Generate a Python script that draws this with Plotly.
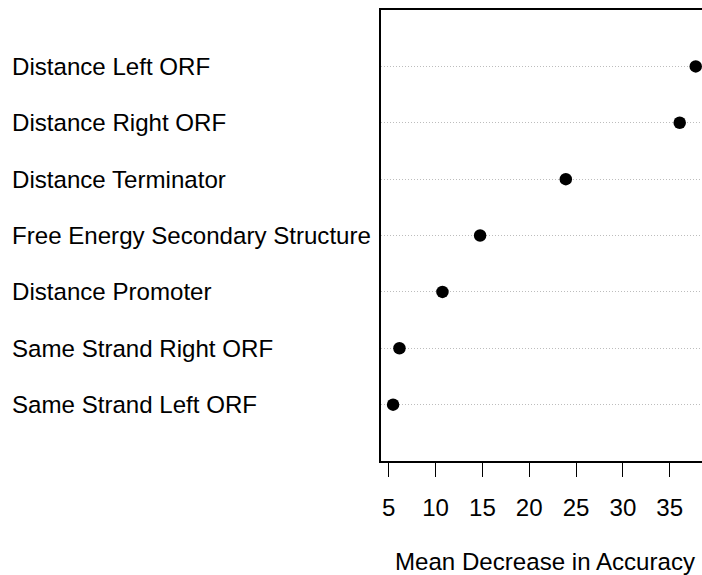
import plotly.graph_objects as go

categories = [
    "Same Strand Left ORF",
    "Same Strand Right ORF",
    "Distance Promoter",
    "Free Energy Secondary Structure",
    "Distance Terminator",
    "Distance Right ORF",
    "Distance Left ORF",
]
values = [5.46, 6.14, 10.73, 14.75, 23.90, 36.06, 37.77]
tick_vals = [5, 10, 15, 20, 25, 30, 35]
x_title = "Mean Decrease in Accuracy"

rows = list(range(1, len(categories) + 1))
FONT = "Liberation Sans, Arial, Helvetica, sans-serif"
FS = 24.1

W, H = 702, 575
L, R, T, B = 381, 0, 10, 114
pxu = 9.367
x0 = 4.17
x1 = x0 + (W - L - R) / pxu

fig = go.Figure()
fig.add_trace(go.Scatter(
    x=values, y=rows, mode="markers",
    marker=dict(color="black", size=12.5, line=dict(width=0)),
    hoverinfo="x+y", showlegend=False,
))

annotations = []
for r, c in zip(rows, categories):
    annotations.append(dict(
        text=c, x=(10 - L) / (W - L - R), xref="paper", y=r, yref="y",
        xanchor="left", yanchor="middle", showarrow=False,
        font=dict(family=FONT, size=FS, color="black"),
    ))
annotations.append(dict(
    text=x_title, x=(544.5 - L) / (W - L - R), xref="paper",
    y=0, yref="paper",
    xanchor="center", yanchor="bottom", yshift=-116,
    showarrow=False, font=dict(family=FONT, size=FS, color="black"),
))

fig.update_layout(
    width=W, height=H,
    margin=dict(l=L, r=R, t=T, b=B, pad=0),
    paper_bgcolor="white", plot_bgcolor="white",
    annotations=annotations,
    xaxis=dict(
        range=[x0, x1], tickvals=tick_vals, ticks="outside", ticklen=14,
        tickwidth=1.2, tickcolor="black", showline=True, linecolor="black",
        linewidth=1.5, mirror=True, showgrid=False, zeroline=False,
        ticklabelstandoff=10,
        tickfont=dict(family=FONT, size=FS, color="black"),
    ),
    yaxis=dict(
        range=[0, 8], tickvals=rows, showticklabels=False, ticks="",
        showline=True, linecolor="black", linewidth=1.5, mirror=False,
        showgrid=True, gridcolor="#bdbdbd", griddash="1px,2px", gridwidth=1,
        zeroline=False,
    ),
)

fig.write_html("out.html")
